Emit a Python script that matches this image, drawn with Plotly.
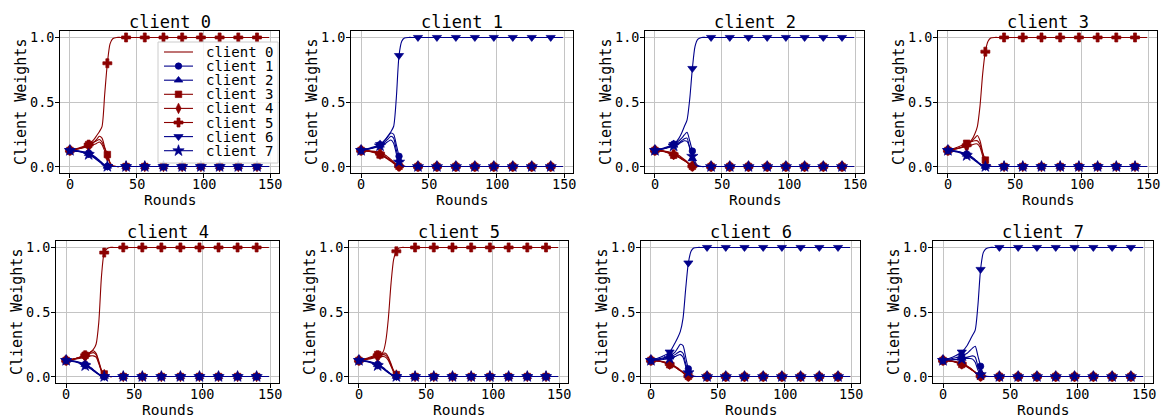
import plotly.graph_objects as go

# ---------------- data ----------------
early_rounds = [0, 7, 14, 18, 20, 22, 24, 26, 28, 30, 32, 35, 38]
late_rounds = [42, 56, 70, 84, 98, 112, 126, 140, 149]
marker_rounds = [0, 14, 28, 42, 56, 70, 84, 98, 112, 126, 140]

x_tick_values = [0, 50, 100, 150]
y_tick_values = [0.0, 0.5, 1.0]
y_tick_labels = ["0.0", "0.5", "1.0"]

panel_titles = ["client 0", "client 1", "client 2", "client 3",
                "client 4", "client 5", "client 6", "client 7"]
client_names = ["client 0", "client 1", "client 2", "client 3",
                "client 4", "client 5", "client 6", "client 7"]
client_colors = ["darkred", "darkblue", "darkblue", "darkred",
                 "darkred", "darkred", "darkblue", "darkblue"]
client_symbols = [None, "circle", "triangle-up", "square",
                  "diamond-tall", "cross", "triangle-down", "star"]
client_marker_sizes = [0, 6.5, 7.5, 6.5, 7.5, 7.5, 8, 8.5]

# client that converges to weight 1.0 in each panel (all others go to 0.0)
converged_client = [5, 6, 6, 5, 5, 5, 6, 6]

# early-round weights (at early_rounds) for clients 0..7, per panel
weights_client0 = [
    [0.125, 0.14, 0.16, 0.19, 0.21, 0.235, 0.22, 0.15, 0.09, 0.03, 0.005, 0.0, 0.0],
    [0.125, 0.12, 0.105, 0.082, 0.066, 0.048, 0.03, 0.012, 0.002, 0.0, 0.0, 0.0, 0.0],
    [0.125, 0.118, 0.1, 0.077, 0.06, 0.043, 0.026, 0.01, 0.002, 0.0, 0.0, 0.0, 0.0],
    [0.125, 0.145, 0.17, 0.19, 0.2, 0.21, 0.19, 0.14, 0.093, 0.03, 0.005, 0.0, 0.0],
    [0.125, 0.138, 0.155, 0.17, 0.18, 0.19, 0.17, 0.12, 0.08, 0.025, 0.004, 0.0, 0.0],
    [0.125, 0.14, 0.17, 0.21, 0.24, 0.27, 0.31, 0.56, 0.8, 0.95, 0.99, 1.0, 1.0],
    [0.125, 0.116, 0.097, 0.072, 0.056, 0.04, 0.024, 0.009, 0.001, 0.0, 0.0, 0.0, 0.0],
    [0.125, 0.115, 0.093, 0.068, 0.052, 0.036, 0.02, 0.007, 0.001, 0.0, 0.0, 0.0, 0.0],
]
weights_client1 = [
    [0.125, 0.12, 0.11, 0.088, 0.072, 0.055, 0.036, 0.015, 0.003, 0.0, 0.0, 0.0, 0.0],
    [0.125, 0.145, 0.17, 0.21, 0.235, 0.26, 0.25, 0.17, 0.08, 0.02, 0.003, 0.0, 0.0],
    [0.125, 0.14, 0.165, 0.195, 0.215, 0.235, 0.22, 0.13, 0.05, 0.01, 0.002, 0.0, 0.0],
    [0.125, 0.115, 0.09, 0.068, 0.054, 0.04, 0.025, 0.01, 0.002, 0.0, 0.0, 0.0, 0.0],
    [0.125, 0.117, 0.095, 0.072, 0.058, 0.044, 0.028, 0.011, 0.002, 0.0, 0.0, 0.0, 0.0],
    [0.125, 0.118, 0.1, 0.076, 0.061, 0.047, 0.03, 0.012, 0.002, 0.0, 0.0, 0.0, 0.0],
    [0.125, 0.14, 0.17, 0.21, 0.24, 0.27, 0.31, 0.53, 0.86, 0.97, 0.995, 1.0, 1.0],
    [0.125, 0.138, 0.16, 0.18, 0.195, 0.205, 0.18, 0.1, 0.035, 0.008, 0.001, 0.0, 0.0],
]
weights_client2 = [
    [0.125, 0.12, 0.105, 0.085, 0.07, 0.055, 0.038, 0.017, 0.003, 0.0, 0.0, 0.0, 0.0],
    [0.125, 0.145, 0.175, 0.2, 0.22, 0.245, 0.265, 0.2, 0.12, 0.04, 0.008, 0.0, 0.0],
    [0.125, 0.14, 0.165, 0.185, 0.2, 0.215, 0.22, 0.14, 0.06, 0.015, 0.002, 0.0, 0.0],
    [0.125, 0.115, 0.088, 0.07, 0.057, 0.044, 0.03, 0.013, 0.002, 0.0, 0.0, 0.0, 0.0],
    [0.125, 0.117, 0.092, 0.073, 0.06, 0.047, 0.032, 0.014, 0.002, 0.0, 0.0, 0.0, 0.0],
    [0.125, 0.118, 0.095, 0.076, 0.063, 0.05, 0.034, 0.015, 0.002, 0.0, 0.0, 0.0, 0.0],
    [0.125, 0.14, 0.17, 0.22, 0.26, 0.31, 0.36, 0.52, 0.76, 0.93, 0.985, 1.0, 1.0],
    [0.125, 0.138, 0.16, 0.178, 0.19, 0.2, 0.195, 0.15, 0.08, 0.02, 0.003, 0.0, 0.0],
]
weights_client3 = [
    [0.125, 0.14, 0.165, 0.2, 0.22, 0.24, 0.2, 0.11, 0.05, 0.01, 0.002, 0.0, 0.0],
    [0.125, 0.118, 0.098, 0.075, 0.058, 0.04, 0.022, 0.007, 0.001, 0.0, 0.0, 0.0, 0.0],
    [0.125, 0.116, 0.094, 0.07, 0.054, 0.037, 0.02, 0.006, 0.001, 0.0, 0.0, 0.0, 0.0],
    [0.125, 0.15, 0.18, 0.195, 0.2, 0.2, 0.17, 0.1, 0.05, 0.012, 0.002, 0.0, 0.0],
    [0.125, 0.138, 0.155, 0.168, 0.175, 0.175, 0.15, 0.08, 0.035, 0.008, 0.001, 0.0, 0.0],
    [0.125, 0.14, 0.165, 0.21, 0.25, 0.31, 0.47, 0.72, 0.89, 0.97, 0.995, 1.0, 1.0],
    [0.125, 0.114, 0.09, 0.066, 0.05, 0.034, 0.018, 0.005, 0.001, 0.0, 0.0, 0.0, 0.0],
    [0.125, 0.112, 0.085, 0.062, 0.046, 0.031, 0.016, 0.004, 0.0, 0.0, 0.0, 0.0, 0.0],
]
weights_client4 = [
    [0.125, 0.14, 0.16, 0.19, 0.2, 0.18, 0.12, 0.05, 0.02, 0.004, 0.0, 0.0, 0.0],
    [0.125, 0.118, 0.095, 0.07, 0.054, 0.036, 0.02, 0.006, 0.001, 0.0, 0.0, 0.0, 0.0],
    [0.125, 0.116, 0.092, 0.067, 0.05, 0.034, 0.018, 0.005, 0.001, 0.0, 0.0, 0.0, 0.0],
    [0.125, 0.14, 0.165, 0.18, 0.185, 0.17, 0.11, 0.045, 0.02, 0.004, 0.0, 0.0, 0.0],
    [0.125, 0.135, 0.15, 0.16, 0.16, 0.15, 0.1, 0.04, 0.015, 0.003, 0.0, 0.0, 0.0],
    [0.125, 0.14, 0.165, 0.19, 0.21, 0.25, 0.42, 0.78, 0.96, 0.99, 1.0, 1.0, 1.0],
    [0.125, 0.114, 0.088, 0.064, 0.047, 0.031, 0.016, 0.004, 0.0, 0.0, 0.0, 0.0, 0.0],
    [0.125, 0.112, 0.084, 0.06, 0.044, 0.029, 0.015, 0.004, 0.0, 0.0, 0.0, 0.0, 0.0],
]
weights_client5 = [
    [0.125, 0.14, 0.16, 0.18, 0.18, 0.15, 0.1, 0.045, 0.015, 0.003, 0.0, 0.0, 0.0],
    [0.125, 0.118, 0.095, 0.07, 0.054, 0.036, 0.02, 0.006, 0.001, 0.0, 0.0, 0.0, 0.0],
    [0.125, 0.116, 0.092, 0.067, 0.05, 0.034, 0.018, 0.005, 0.001, 0.0, 0.0, 0.0, 0.0],
    [0.125, 0.145, 0.17, 0.17, 0.165, 0.14, 0.09, 0.04, 0.015, 0.003, 0.0, 0.0, 0.0],
    [0.125, 0.135, 0.15, 0.155, 0.15, 0.125, 0.08, 0.035, 0.012, 0.002, 0.0, 0.0, 0.0],
    [0.125, 0.14, 0.165, 0.19, 0.27, 0.45, 0.72, 0.91, 0.97, 0.995, 1.0, 1.0, 1.0],
    [0.125, 0.114, 0.088, 0.064, 0.047, 0.031, 0.016, 0.004, 0.0, 0.0, 0.0, 0.0, 0.0],
    [0.125, 0.112, 0.084, 0.06, 0.044, 0.029, 0.015, 0.004, 0.0, 0.0, 0.0, 0.0, 0.0],
]
weights_client6 = [
    [0.125, 0.12, 0.1, 0.08, 0.066, 0.05, 0.034, 0.015, 0.003, 0.0, 0.0, 0.0, 0.0],
    [0.125, 0.14, 0.16, 0.19, 0.22, 0.25, 0.24, 0.15, 0.06, 0.015, 0.002, 0.0, 0.0],
    [0.125, 0.135, 0.15, 0.17, 0.185, 0.195, 0.18, 0.1, 0.04, 0.008, 0.001, 0.0, 0.0],
    [0.125, 0.117, 0.092, 0.072, 0.058, 0.044, 0.029, 0.012, 0.002, 0.0, 0.0, 0.0, 0.0],
    [0.125, 0.118, 0.095, 0.075, 0.06, 0.046, 0.03, 0.013, 0.002, 0.0, 0.0, 0.0, 0.0],
    [0.125, 0.119, 0.097, 0.077, 0.062, 0.048, 0.032, 0.014, 0.002, 0.0, 0.0, 0.0, 0.0],
    [0.125, 0.15, 0.19, 0.26, 0.3, 0.35, 0.45, 0.68, 0.88, 0.97, 0.995, 1.0, 1.0],
    [0.125, 0.13, 0.14, 0.155, 0.165, 0.17, 0.15, 0.08, 0.03, 0.006, 0.001, 0.0, 0.0],
]
weights_client7 = [
    [0.125, 0.12, 0.102, 0.082, 0.068, 0.052, 0.035, 0.015, 0.003, 0.0, 0.0, 0.0, 0.0],
    [0.125, 0.14, 0.16, 0.18, 0.2, 0.22, 0.235, 0.16, 0.08, 0.02, 0.003, 0.0, 0.0],
    [0.125, 0.13, 0.14, 0.15, 0.155, 0.16, 0.15, 0.08, 0.03, 0.005, 0.001, 0.0, 0.0],
    [0.125, 0.117, 0.094, 0.074, 0.06, 0.046, 0.03, 0.013, 0.002, 0.0, 0.0, 0.0, 0.0],
    [0.125, 0.118, 0.097, 0.077, 0.062, 0.048, 0.032, 0.014, 0.002, 0.0, 0.0, 0.0, 0.0],
    [0.125, 0.119, 0.099, 0.079, 0.064, 0.05, 0.034, 0.015, 0.002, 0.0, 0.0, 0.0, 0.0],
    [0.125, 0.15, 0.19, 0.24, 0.28, 0.32, 0.36, 0.55, 0.83, 0.96, 0.99, 1.0, 1.0],
    [0.125, 0.13, 0.135, 0.14, 0.14, 0.135, 0.11, 0.05, 0.015, 0.003, 0.0, 0.0, 0.0],
]

panel_weights = [weights_client0, weights_client1, weights_client2, weights_client3,
                 weights_client4, weights_client5, weights_client6, weights_client7]

# ---------------- layout geometry (page pixels) ----------------
W, H = 1162, 418
FONT = "DejaVu Sans Mono"
box_left = [60, 351, 645, 938, 56, 349, 641, 933]
box_right = [279, 573, 864, 1157, 279, 568, 860, 1153]
row_top = [31, 241]
row_bottom = [173, 383]

all_rounds = early_rounds + late_rounds
x_span = max(all_rounds) - min(all_rounds)
x_range = [min(all_rounds) - 0.05 * x_span, max(all_rounds) + 0.05 * x_span]
y_range = [-0.05, 1.05]

fig = go.Figure()
annotations = []

for k in range(8):
    row, col = divmod(k, 4)
    xid = "x" if k == 0 else f"x{k + 1}"
    yid = "y" if k == 0 else f"y{k + 1}"
    xkey = "xaxis" if k == 0 else f"xaxis{k + 1}"
    ykey = "yaxis" if k == 0 else f"yaxis{k + 1}"
    dom_x = [box_left[k] / W, box_right[k] / W]
    dom_y = [1 - row_bottom[row] / H, 1 - row_top[row] / H]

    for c in range(8):
        final = 1.0 if c == converged_client[k] else 0.0
        ys = panel_weights[k][c] + [final] * len(late_rounds)
        sizes = [client_marker_sizes[c] if (r in marker_rounds and client_symbols[c]) else 0
                 for r in all_rounds]
        fig.add_trace(go.Scatter(
            x=all_rounds, y=ys, xaxis=xid, yaxis=yid,
            mode="lines+markers" if client_symbols[c] else "lines",
            line=dict(color=client_colors[c], width=1.1, shape="spline", smoothing=0.7),
            marker=dict(symbol=client_symbols[c] or "circle", size=sizes, opacity=1,
                        color=client_colors[c],
                        line=dict(width=0.7, color=client_colors[c])),
            showlegend=False, hoverinfo="skip",
        ))

    axis_common = dict(
        showline=True, linecolor="black", linewidth=1, mirror=True,
        ticks="outside", ticklen=4, tickwidth=1, tickcolor="black",
        showticklabels=False,
        showgrid=True, gridcolor="#c4c4c4", gridwidth=1, zeroline=False,
    )
    fig.update_layout({
        xkey: dict(domain=dom_x, anchor=yid, range=x_range,
                   tickvals=x_tick_values, **axis_common),
        ykey: dict(domain=dom_y, anchor=xid, range=y_range,
                   tickvals=y_tick_values, **axis_common),
    })

    # tick labels, placed through each axis' own scale
    for xv in x_tick_values:
        annotations.append(dict(text=str(xv), x=xv, xref=xid,
                                y=1 - (row_bottom[row] + 11) / H, yref="paper",
                                xanchor="center", yanchor="middle", showarrow=False,
                                font=dict(family=FONT, size=13.5, color="black")))
    for yv, yl in zip(y_tick_values, y_tick_labels):
        annotations.append(dict(text=yl, y=yv, yref=yid,
                                x=(box_left[k] - 4.5) / W, xref="paper",
                                xanchor="right", yanchor="middle", showarrow=False,
                                font=dict(family=FONT, size=13.5, color="black")))

    cx = (box_left[k] + box_right[k]) / 2 / W
    annotations.append(dict(text=panel_titles[k], x=cx, y=1 - (row_top[row] - 9) / H,
                            xref="paper", yref="paper", xanchor="center", yanchor="middle",
                            showarrow=False, font=dict(family=FONT, size=17, color="black")))
    annotations.append(dict(text="Rounds", x=cx, y=1 - (row_bottom[row] + 27) / H,
                            xref="paper", yref="paper", xanchor="center", yanchor="middle",
                            showarrow=False, font=dict(family=FONT, size=14.5, color="black")))
    annotations.append(dict(text="Client Weights", x=(box_left[k] - 39) / W,
                            y=1 - (row_top[row] + row_bottom[row]) / 2 / H,
                            xref="paper", yref="paper", xanchor="center", yanchor="middle",
                            textangle=-90, showarrow=False,
                            font=dict(family=FONT, size=15, color="black")))

# ---------------- legend drawn inside panel 0 (overlay axes in pixel units) ----------------
fig.update_layout(
    xaxis9=dict(overlaying="x", anchor="y9", range=[box_left[0], box_right[0]], visible=False),
    yaxis9=dict(overlaying="y", anchor="x9", range=[row_bottom[0], row_top[0]], visible=False),
)
lg_left, lg_right, lg_top, lg_bottom = 158, 278, 42, 163
fig.add_trace(go.Scatter(
    x=[lg_left, lg_right, lg_right, lg_left, lg_left],
    y=[lg_top, lg_top, lg_bottom, lg_bottom, lg_top],
    xaxis="x9", yaxis="y9", mode="lines", fill="toself",
    fillcolor="rgba(255,255,255,0.85)", line=dict(color="#cccccc", width=1),
    showlegend=False, hoverinfo="skip"))
for c in range(8):
    yy = 52 + 14.1 * c
    fig.add_trace(go.Scatter(
        x=[164, 193], y=[yy, yy], xaxis="x9", yaxis="y9", mode="lines",
        line=dict(color=client_colors[c], width=1.1), showlegend=False, hoverinfo="skip"))
    if client_symbols[c]:
        fig.add_trace(go.Scatter(
            x=[178.5], y=[yy], xaxis="x9", yaxis="y9", mode="markers",
            marker=dict(symbol=client_symbols[c], size=client_marker_sizes[c], opacity=1,
                        color=client_colors[c],
                        line=dict(width=0.7, color=client_colors[c])),
            showlegend=False, hoverinfo="skip"))
    annotations.append(dict(text=client_names[c], x=204, y=yy, xref="x9", yref="y9",
                            xanchor="left", yanchor="middle", showarrow=False,
                            font=dict(family=FONT, size=14, color="black")))

fig.update_layout(
    width=W, height=H, margin=dict(l=0, r=0, t=0, b=0),
    paper_bgcolor="white", plot_bgcolor="white",
    showlegend=False, annotations=annotations,
    font=dict(family=FONT, color="black"),
)

fig.write_html("out.html", config={"displayModeBar": False},
               post_script="document.body.style.margin='0';")
